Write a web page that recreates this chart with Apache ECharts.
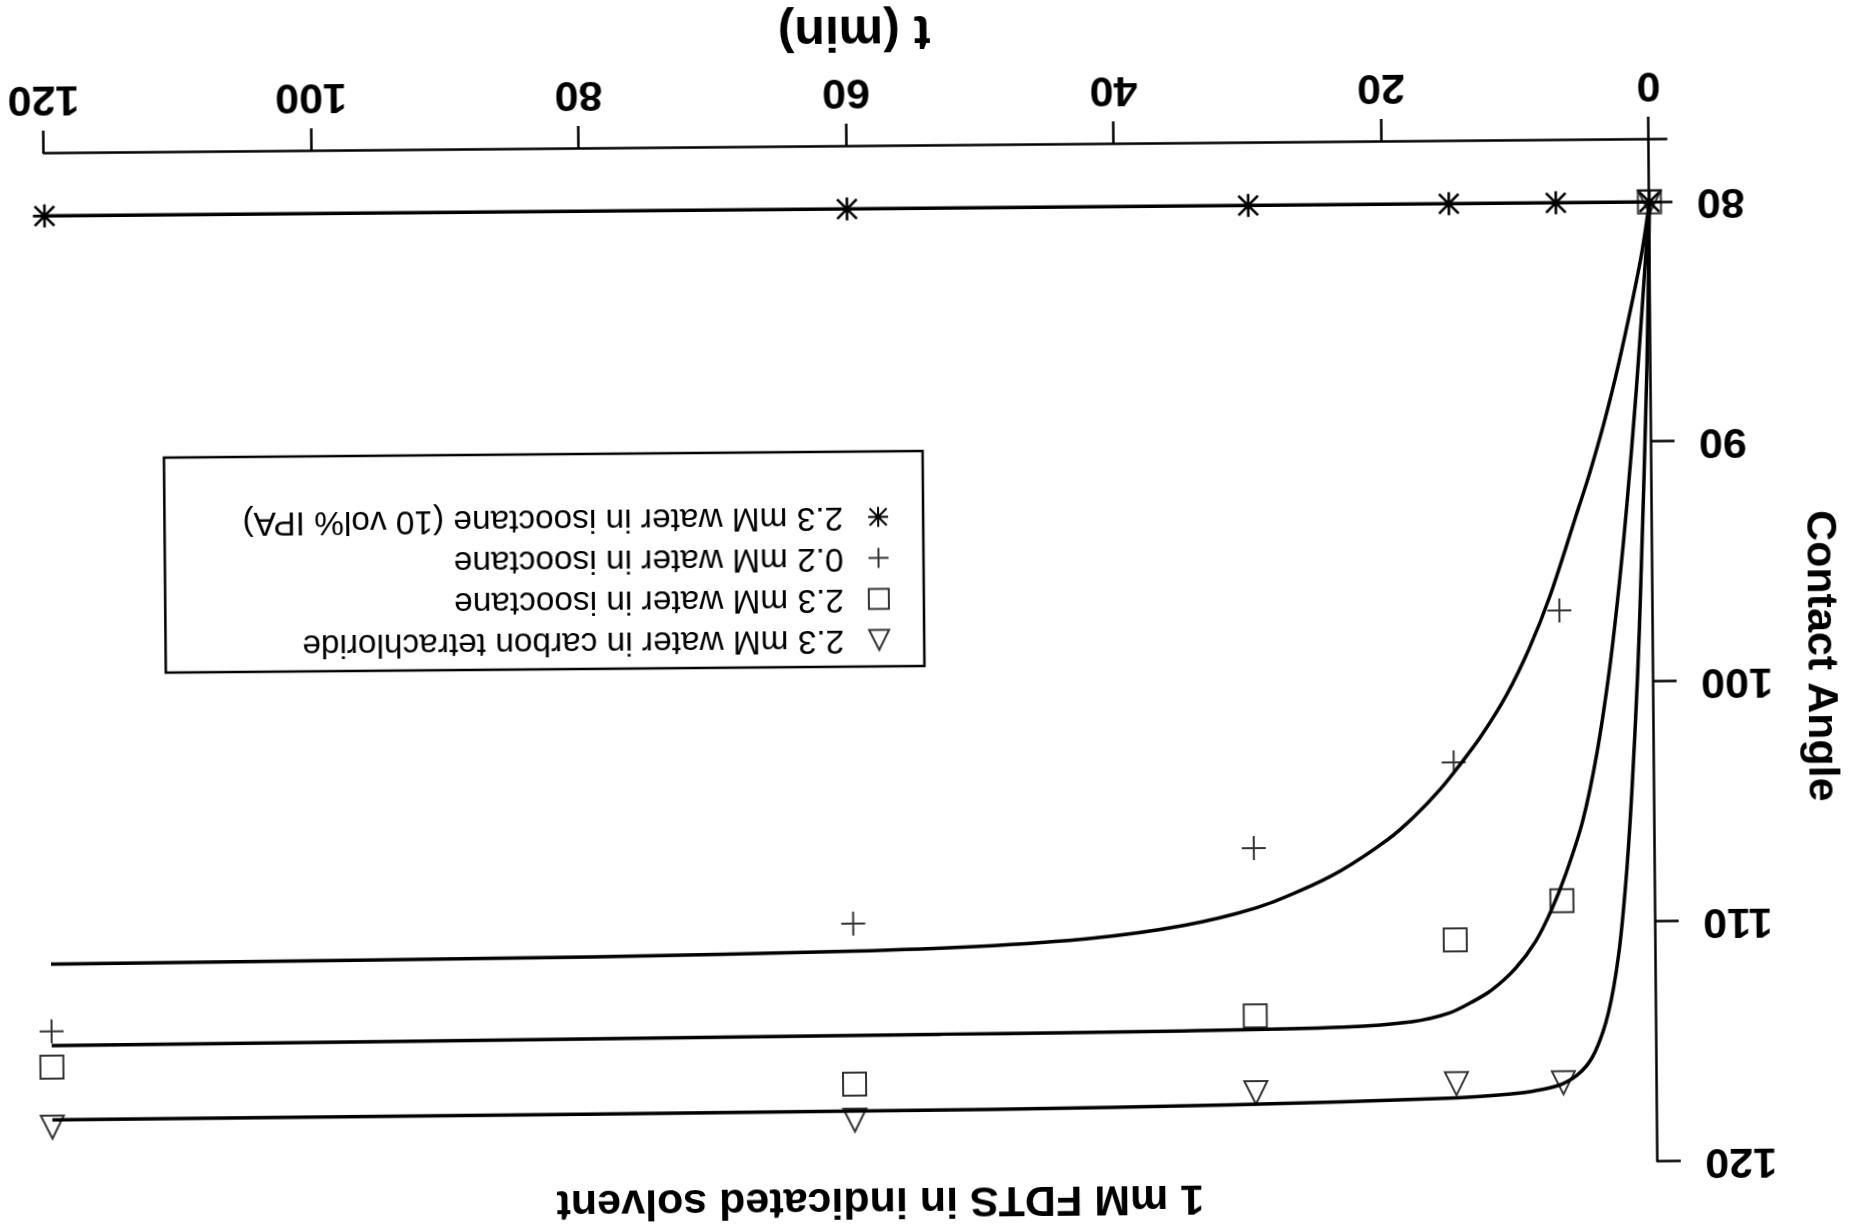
<!DOCTYPE html>
<html>
<head>
<meta charset="utf-8">
<title>1 mM FDTS in indicated solvent</title>
<script src="https://cdn.jsdelivr.net/npm/echarts@6/dist/echarts.min.js"></script>
<style>
  html, body { margin: 0; padding: 0; background: #fff; overflow: hidden; }
  /* the source figure is printed upside down (and scanned a little crooked) */
  #chart { width: 1849px; height: 1230px; transform: rotate(179.5deg); transform-origin: 50% 50%; }
</style>
</head>
<body>
<div id="chart"></div>
<script>
// measured samples
const timeMin = [0, 7, 15, 30, 60, 120]
const angleIPA = [80, 80, 80, 80, 80, 80]
const anglePlus = [80, 97.0, 103.3, 106.8, 109.8, 114.0]
const angleSquare = [80, 109.1, 110.7, 113.8, 116.5, 115.5]
const angleTriangle = [80, 116.7, 116.7, 117.0, 118.0, 118.0]

// fitted curves
const fitPlusT = [0, 0.7, 2.1, 3.3, 4.6, 5.6, 7.7, 9.3, 11.0, 12.8, 14.4, 16.0, 18.1, 20.0, 23.6, 26.6, 29.9, 35.3, 42.2, 50.9, 60, 79.2, 120]
const fitPlusA = [80, 82.4, 86.0, 88.7, 91.2, 92.9, 96.4, 98.6, 100.5, 102.1, 103.3, 104.4, 105.6, 106.5, 107.8, 108.6, 109.3, 110.0, 110.5, 110.8, 110.95, 111.1, 111.2]
const fitSquareT = [0, 1.1, 1.9, 2.5, 3.3, 4.3, 5.4, 6.7, 7.8, 9.0, 10.5, 12.3, 13.8, 15.5, 18.3, 23.4, 35.4, 53.5, 71.6, 120]
const fitSquareA = [80, 87.8, 92.7, 95.9, 99.5, 103.0, 105.8, 108.0, 109.5, 110.8, 111.9, 112.8, 113.3, 113.75, 114.1, 114.3, 114.4, 114.45, 114.5, 114.6]
const fitTriT = [0, 0.3, 0.9, 1.2, 1.7, 2.2, 2.8, 3.6, 4.6, 5.6, 7.1, 8.9, 11.1, 15.6, 31.8, 49.9, 120]
const fitTriA = [80, 87.0, 96.0, 99.8, 104.6, 108.3, 111.4, 113.8, 115.4, 116.2, 116.75, 117.0, 117.15, 117.3, 117.5, 117.6, 117.7]

const xTicks = [0, 20, 40, 60, 80, 100, 120]
const yTicks = [80, 90, 100, 110, 120]

const NAME_CCL4 = '2.3 mM water in carbon tetrachloride'
const NAME_ISO = '2.3 mM water in isooctane'
const NAME_LOW = '0.2 mM water in isooctane'
const NAME_IPA = '2.3 mM water in isooctane (10 vol% IPA)'

const PLUS = 'path://M10 0 L10 20 M0 10 L20 10'
const STAR = 'path://M10 0 L10 20 M0 10 L20 10 M1.5 1.5 L18.5 18.5 M1.5 18.5 L18.5 1.5'

const FONT = 'Liberation Sans'

function pairs(xs, ys) {
  return xs.map((x, i) => [x, ys[i]])
}

const markerStyle = {
  color: 'rgba(0,0,0,0)',
  borderColor: '#000',
  borderWidth: 2
}

function fitSeries(name, xs, ys) {
  return {
    name: name,
    type: 'line',
    data: pairs(xs, ys),
    symbol: 'none',
    smooth: 0.3,
    lineStyle: { color: '#000', width: 3.5 },
    z: 2
  }
}

function markerSeries(name, ys, symbol, size) {
  return {
    name: name,
    type: 'scatter',
    data: pairs(timeMin, ys),
    symbol: symbol,
    symbolSize: size,
    itemStyle: markerStyle,
    z: 4
  }
}

const option = {
  animation: false,
  backgroundColor: '#fff',
  textStyle: { fontFamily: FONT, color: '#000' },
  title: {
    text: '1 mM FDTS in indicated solvent',
    left: 650,
    top: 9,
    padding: 0,
    textStyle: { fontFamily: FONT, fontSize: 43, fontWeight: 'bold', color: '#000' }
  },
  legend: {
    orient: 'vertical',
    left: 925,
    top: 564,
    padding: [10, 78, 49, 34],
    itemWidth: 20,
    itemHeight: 20,
    itemGap: 8,
    selectedMode: false,
    borderColor: '#000',
    borderWidth: 2.5,
    itemStyle: markerStyle,
    textStyle: { fontFamily: FONT, fontSize: 33.4, lineHeight: 33, color: '#000', padding: [0, 0, 0, 20] },
    data: [
      { name: NAME_CCL4, icon: 'triangle' },
      { name: NAME_ISO, icon: 'rect' },
      { name: NAME_LOW, icon: PLUS },
      { name: NAME_IPA, icon: STAR }
    ]
  },
  grid: {
    left: 178.6,
    right: 48,
    top: 62.5,
    bottom: 146,
    outerBoundsMode: 'none'
  },
  xAxis: {
    type: 'value',
    min: -1.3,
    max: 120,
    name: 't (min)',
    nameLocation: 'middle',
    nameGap: 91,
    nameTextStyle: { fontFamily: FONT, fontSize: 50, fontWeight: 'bold', color: '#000' },
    axisLine: { lineStyle: { color: '#000', width: 2.5 } },
    axisTick: { inside: false, length: 23, customValues: xTicks, lineStyle: { color: '#000', width: 2.5 } },
    axisLabel: { customValues: xTicks, margin: 34, fontFamily: FONT, fontSize: 43, fontWeight: 'bold', color: '#000' },
    splitLine: { show: false }
  },
  yAxis: {
    type: 'value',
    min: 77.4,
    max: 120,
    name: 'Contact Angle',
    nameLocation: 'middle',
    nameGap: 128,
    nameRotate: 90,
    nameTextStyle: { fontFamily: FONT, fontSize: 43, fontWeight: 'bold', color: '#000', padding: [0, 0, 0, 14] },
    axisLine: { show: true, lineStyle: { color: '#000', width: 2.5 } },
    axisTick: { show: true, inside: false, length: 23, customValues: yTicks, lineStyle: { color: '#000', width: 2.5 } },
    axisLabel: { customValues: yTicks, margin: 30, fontFamily: FONT, fontSize: 43, fontWeight: 'bold', color: '#000' },
    splitLine: { show: false }
  },
  series: [
    fitSeries('fit ' + NAME_LOW, fitPlusT, fitPlusA),
    fitSeries('fit ' + NAME_ISO, fitSquareT, fitSquareA),
    fitSeries('fit ' + NAME_CCL4, fitTriT, fitTriA),
    {
      name: NAME_IPA,
      type: 'line',
      data: pairs(timeMin, angleIPA),
      symbol: STAR,
      symbolSize: 23,
      showAllSymbol: true,
      lineStyle: { color: '#000', width: 3.5 },
      itemStyle: { color: 'rgba(0,0,0,0)', borderColor: '#000', borderWidth: 2.6 },
      z: 3
    },
    markerSeries(NAME_LOW, anglePlus, PLUS, 24),
    markerSeries(NAME_ISO, angleSquare, 'rect', 23),
    markerSeries(NAME_CCL4, angleTriangle, 'triangle', 23)
  ]
}

const chart = echarts.init(document.getElementById('chart'))
chart.setOption(option)
</script>
</body>
</html>
